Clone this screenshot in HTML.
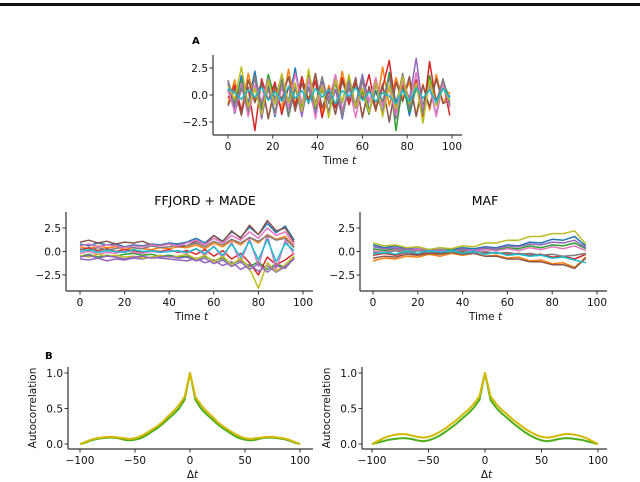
<!DOCTYPE html>
<html><head><meta charset="utf-8"><style>
html,body{margin:0;padding:0;background:#fff;}
svg{display:block;font-family:"DejaVu Sans","Liberation Sans",sans-serif;}
</style></head><body>
<svg id="fig" width="640" height="482" viewBox="0 0 640 482">
<rect x="0" y="3" width="640" height="3" fill="#111"/>
<text x="192" y="44" font-size="10" font-weight="bold">A</text>
<text x="45" y="359" font-size="10" font-weight="bold">B</text>
<text x="205" y="205" font-size="12.5" text-anchor="middle">FFJORD + MADE</text>
<text x="485" y="205" font-size="12.5" text-anchor="middle">MAF</text>
<g id="plots"></g>
</svg>
<script>
// ---------- data ----------
const colors = ["#1f77b4","#ff7f0e","#2ca02c","#d62728","#9467bd","#8c564b","#e377c2","#7f7f7f","#bcbd22","#17becf"];
const timeTicks = [0,20,40,60,80,100];
const yTicksTS = [2.5,0.0,-2.5];
const yTickLabelsTS = ["2.5","0.0","\u22122.5"];
const lagTicks = [-100,-50,0,50,100];
const lagTickLabels = ["\u2212100","\u221250","0","50","100"];
const acTicks = [1.0,0.5,0.0];
const acTickLabels = ["1.0","0.5","0.0"];

// Panel A: 10 series, t = 0,3,...,99 (values in tenths)
const tA = [0,3,6,9,12,15,18,21,24,27,30,33,36,39,42,45,48,51,54,57,60,63,66,69,72,75,78,81,84,87,90,93,96,99];
const seriesA = [
[5,-12,18,-8,22,-15,9,-20,14,-6,25,-11,7,-18,12,-3,16,-22,10,-9,19,-14,4,-17,21,-7,13,-19,8,-12,17,-5,11,-2],
[-8,14,-16,20,-5,11,-21,6,-13,24,-9,15,-4,18,-17,9,-11,22,-6,13,-20,7,-15,26,-10,16,-3,12,-18,10,-14,19,-7,3],
[10,-6,13,-17,8,-11,19,-4,12,-20,6,-9,21,-13,5,-16,11,-7,17,-12,3,-18,14,-8,20,-33,9,-15,6,-11,18,-9,14,-6],
[-3,9,-14,7,-33,15,-5,12,-18,8,-10,17,-6,13,-21,4,-12,16,-9,11,-4,19,-13,7,32,-15,10,-6,14,-20,31,-8,12,-19],
[12,-17,6,-9,16,-22,11,-5,19,-13,8,-20,14,-7,10,-16,5,-21,13,-9,18,-6,11,-17,9,-22,15,-4,34,-12,7,-18,13,-10],
[-10,6,-19,14,-7,12,-22,9,-4,17,-15,11,-8,20,-12,6,-18,13,-5,16,-21,8,-14,10,-25,12,-6,17,-20,9,-11,15,-8,-4],
[4,-15,11,-20,9,-6,15,-18,7,-12,20,-8,16,-22,10,-5,19,-14,8,-21,12,-7,16,-10,6,-19,13,-9,21,-14,8,-20,11,-12],
[14,-9,7,-13,18,-10,5,-16,12,-19,9,-14,6,-11,17,-8,13,-19,7,-12,15,-17,9,-6,16,-11,20,-13,8,-17,12,-7,15,-9],
[8,-4,26,-11,6,-18,13,-9,20,-7,11,-15,24,-10,8,-21,14,-6,19,-11,6,-16,12,-20,9,-13,17,-8,11,-26,14,-10,6,-5],
[6,2,-4,5,-2,7,-5,3,-6,8,-3,4,-7,6,-2,5,-8,4,-1,7,-5,3,-6,2,-1,-8,4,-6,7,-3,5,-7,6,-3]
];

// FFJORD + MADE: 12 series, t = 0,4,...,96 (values in tenths)
const tF = [0,4,8,12,16,20,24,28,32,36,40,44,48,52,56,60,64,68,72,76,80,84,88,92,96];
const seriesF = [
[8,6,9,7,8,5,7,6,8,7,9,8,10,14,9,17,11,21,15,26,18,30,20,27,12],
[5,3,6,4,5,2,4,3,2,4,3,5,4,7,3,9,5,12,7,15,9,18,13,16,5],
[-5,-3,-6,-4,-5,-3,-2,-4,-3,-5,-4,-6,-5,-8,-5,-10,-7,-13,-9,-16,-11,-19,-13,-17,-6],
[2,4,1,3,0,2,1,-1,1,0,2,-1,1,-3,2,-5,1,-8,-2,-12,-25,-6,-14,-9,-2],
[-8,-9,-7,-10,-8,-9,-7,-8,-6,-7,-8,-9,-10,-7,-12,-9,-15,-11,-19,-14,-21,-15,-22,-16,-8],
[10,12,9,11,8,10,9,11,7,6,8,5,6,11,7,17,10,22,14,28,18,33,22,25,10],
[-2,0,-3,-1,-2,1,-1,-2,0,-1,1,0,-2,3,-4,6,-7,10,-12,14,-16,18,-19,12,-3],
[3,1,4,2,3,5,4,3,6,4,5,7,6,9,5,11,7,13,9,15,11,17,12,14,4],
[-4,-6,-3,-5,-4,-6,-5,-7,-6,-4,-6,-5,-3,-8,-4,-11,-5,-14,-7,-18,-39,-12,-21,-14,-5],
[0,2,-1,1,0,-1,2,0,1,-1,0,1,-1,3,-2,5,-4,8,-6,11,-9,13,-11,9,1],
[6,8,5,7,6,4,6,5,7,6,8,6,9,12,7,14,9,17,12,21,14,25,17,21,7],
[-6,-4,-7,-5,-6,-8,-6,-5,-7,-6,-5,-7,-6,-10,-7,-13,-9,-16,-11,-19,-13,-22,-15,-18,-7]
];

// MAF: 10 series, t = 0,5,...,95 (values in tenths)
const tM = [0,5,10,15,20,25,30,35,40,45,50,55,60,65,70,75,80,85,90,95];
const seriesM = [
[7,4,6,3,5,2,4,2,4,3,5,4,7,6,10,9,13,12,16,6],
[-10,-7,-8,-5,-6,-3,-5,-2,-4,-2,-5,-4,-7,-6,-10,-9,-13,-12,-17,-6],
[3,1,3,0,2,0,2,1,2,1,3,2,4,3,6,4,7,6,9,3],
[-4,-2,-4,-1,-3,0,-2,0,-1,0,-2,-1,-3,-2,-4,-3,-6,-5,-8,-3],
[5,3,4,2,3,1,2,0,3,1,4,3,6,5,8,7,10,9,12,4],
[-7,-5,-6,-3,-4,-2,-3,-1,-3,-2,-5,-5,-8,-8,-11,-11,-14,-14,-18,-7],
[1,-1,2,-1,2,-1,1,0,1,0,2,1,3,1,4,2,5,3,6,1],
[-1,-2,1,-2,1,-1,0,-1,1,-2,0,-2,-1,-3,-2,-4,-3,-5,-4,-2],
[9,6,7,4,5,2,4,3,6,5,9,9,12,12,16,16,19,19,22,8],
[-3,-1,-3,0,-2,1,-1,1,-2,0,-3,-1,-4,-3,-5,-4,-7,-6,-9,-12]
];

// Autocorrelation, lags -100..100 step 5
const lags = [-100,-95,-90,-85,-80,-75,-70,-65,-60,-55,-50,-45,-40,-35,-30,-25,-20,-15,-10,-5,0,5,10,15,20,25,30,35,40,45,50,55,60,65,70,75,80,85,90,95,100];
const acLeftGreen = [0,0.02,0.05,0.07,0.08,0.09,0.09,0.08,0.06,0.05,0.06,0.08,0.12,0.17,0.22,0.28,0.35,0.42,0.5,0.62,1.0,0.62,0.5,0.42,0.35,0.28,0.22,0.17,0.12,0.08,0.06,0.05,0.06,0.08,0.09,0.09,0.08,0.07,0.05,0.02,0];
const acLeftYellow = [0,0.03,0.06,0.08,0.09,0.1,0.1,0.09,0.08,0.07,0.08,0.11,0.15,0.2,0.25,0.31,0.39,0.46,0.55,0.66,1.0,0.66,0.55,0.46,0.39,0.31,0.25,0.2,0.15,0.11,0.08,0.07,0.08,0.09,0.1,0.1,0.09,0.08,0.06,0.03,0];
const acRightGreen = [0,0.02,0.04,0.06,0.07,0.08,0.08,0.07,0.05,0.04,0.05,0.08,0.12,0.17,0.23,0.29,0.36,0.43,0.51,0.62,1.0,0.62,0.51,0.43,0.36,0.29,0.23,0.17,0.12,0.08,0.05,0.04,0.05,0.07,0.08,0.08,0.07,0.06,0.04,0.02,0];
const acRightYellow = [0,0.04,0.08,0.11,0.13,0.14,0.14,0.12,0.1,0.09,0.1,0.13,0.17,0.22,0.28,0.34,0.41,0.48,0.56,0.67,1.0,0.67,0.56,0.48,0.41,0.34,0.28,0.22,0.17,0.13,0.1,0.09,0.1,0.12,0.14,0.14,0.13,0.11,0.08,0.04,0];

// ---------- drawing ----------
const NS = "http://www.w3.org/2000/svg";
const root = document.getElementById("plots");
function mk(tag, attrs, parent){
  const e = document.createElementNS(NS, tag);
  for (const k in attrs) e.setAttribute(k, attrs[k]);
  (parent||root).appendChild(e);
  return e;
}
function panel(p){
  const g = mk("g", {});
  
  
  const sx = v => p.x0 + (v - p.xmin) / (p.xmax - p.xmin) * (p.x1 - p.x0);
  const sy = v => p.yA + (v - p.vA) / (p.vB - p.vA) * (p.yB - p.yA);
  p.series.forEach((s, i) => {
    const d = s.map((v, j) => (j ? "L" : "M") + sx(p.xs[j]).toFixed(1) + "," + sy(v * p.scale).toFixed(1)).join("");
    const path = mk("path", {d: d, fill: "none", stroke: p.colors[i % p.colors.length], "stroke-width": p.lw, "stroke-linejoin": "round"}, g);
    
    
  });
  const ax = mk("path", {d: `M${p.axL},${p.axT}V${p.axB}M${p.axL},${p.axB}H${p.axR}`, stroke: "#333", "stroke-width": 1.2, fill: "none"}, g);
  
  
  p.xt.forEach((v, i) => {
    const x = sx(v);
    mk("line", {x1: x, x2: x, y1: p.axB, y2: p.axB + 3.5, stroke: "#333", "stroke-width": 1}, g);
    const t = mk("text", {x: x, y: p.axB + 15, "font-size": 10.5, "text-anchor": "middle", fill: "#111"}, g);
    t.textContent = p.xtl[i];
    
    
  });
  p.yt.forEach((v, i) => {
    const y = sy(v);
    mk("line", {x1: p.axL - 3.5, x2: p.axL, y1: y, y2: y, stroke: "#333", "stroke-width": 1}, g);
    const t = mk("text", {x: p.axL - 5, y: y + 4, "font-size": 10.5, "text-anchor": "end", fill: "#111"}, g);
    t.textContent = p.ytl[i];
    
    
  });
  const xl = mk("text", {x: (p.axL + p.axR) / 2 + 2, y: p.axB + 29, "font-size": 10.5, "text-anchor": "middle", fill: "#111"}, g);
  xl.innerHTML = p.xlabel;
  
  
  if (p.ylabel) {
    const cy = (p.axT + p.axB) / 2;
    const yl = mk("text", {x: p.ylx, y: cy, "font-size": 10.5, "text-anchor": "middle", transform: `rotate(-90 ${p.ylx} ${cy})`, fill: "#111"}, g);
    yl.textContent = p.ylabel;
    
    
  }
}
const timeLabels = timeTicks.map(String);
const timeTitle = 'Time <tspan font-style="italic">t</tspan>';
panel({name: "panel-a-timeseries", xs: tA, series: seriesA, scale: 0.1, colors: colors, lw: 1.5,
  xmin: 0, xmax: 100, x0: 228, x1: 452, vA: 2.5, yA: 68, vB: -2.5, yB: 122,
  axL: 213, axR: 462, axT: 55, axB: 135, xt: timeTicks, xtl: timeLabels, yt: yTicksTS, ytl: yTickLabelsTS, xlabel: timeTitle});
panel({name: "ffjord-made-timeseries", xs: tF, series: seriesF, scale: 0.1, colors: colors.concat(["#e377c2","#9467bd"]), lw: 1.5,
  xmin: 0, xmax: 100, x0: 80, x1: 303, vA: 2.5, yA: 228, vB: -2.5, yB: 275,
  axL: 66, axR: 313, axT: 212, axB: 291, xt: timeTicks, xtl: timeLabels, yt: yTicksTS, ytl: yTickLabelsTS, xlabel: timeTitle});
panel({name: "maf-timeseries", xs: tM, series: seriesM, scale: 0.1, colors: colors, lw: 1.5,
  xmin: 0, xmax: 100, x0: 373, x1: 597, vA: 2.5, yA: 228, vB: -2.5, yB: 275,
  axL: 360, axR: 607, axT: 212, axB: 291, xt: timeTicks, xtl: timeLabels, yt: yTicksTS, ytl: yTickLabelsTS, xlabel: timeTitle});
panel({name: "autocorrelation-left", xs: lags, series: [acLeftGreen, acLeftYellow], scale: 1, colors: ["#4caf1a", "#d4b800"], lw: 2,
  xmin: -100, xmax: 100, x0: 80, x1: 300, vA: 1.0, yA: 373, vB: 0.0, yB: 444,
  axL: 68, axR: 313, axT: 367, axB: 449, xt: lagTicks, xtl: lagTickLabels, yt: acTicks, ytl: acTickLabels,
  xlabel: '\u0394<tspan font-style="italic">t</tspan>', ylabel: "Autocorrelation", ylx: 36});
panel({name: "autocorrelation-right", xs: lags, series: [acRightGreen, acRightYellow], scale: 1, colors: ["#4caf1a", "#d4b800"], lw: 2,
  xmin: -100, xmax: 100, x0: 372, x1: 598, vA: 1.0, yA: 373, vB: 0.0, yB: 444,
  axL: 362, axR: 607, axT: 367, axB: 449, xt: lagTicks, xtl: lagTickLabels, yt: acTicks, ytl: acTickLabels,
  xlabel: '\u0394<tspan font-style="italic">t</tspan>', ylabel: "Autocorrelation", ylx: 330});
</script>
</body></html>
